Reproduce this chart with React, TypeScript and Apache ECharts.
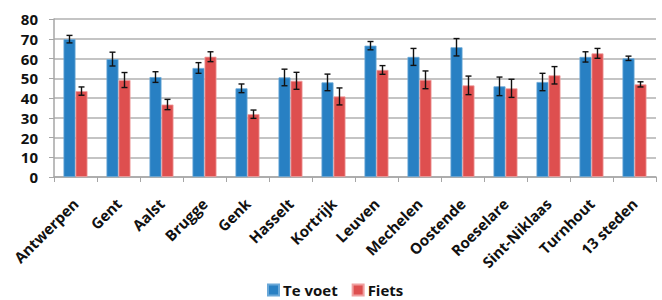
import React, { useEffect, useRef } from "react";
import * as echarts from "echarts";

const categories = ["Antwerpen", "Gent", "Aalst", "Brugge", "Genk", "Hasselt", "Kortrijk", "Leuven", "Mechelen", "Oostende", "Roeselare", "Sint-Niklaas", "Turnhout", "13 steden"];
const teVoet = [69.8, 59.7, 50.6, 55.2, 44.9, 50.4, 47.9, 66.5, 60.8, 65.7, 45.9, 48.1, 60.8, 60.1];
const teVoetErr = [1.9, 3.5, 2.7, 2.7, 2.2, 4.2, 4.2, 2.1, 4.3, 4.4, 4.7, 4.4, 2.6, 1.1];
const fiets = [43.5, 49.1, 36.7, 60.9, 31.8, 48.7, 40.8, 54.2, 49.2, 46.4, 44.9, 51.5, 62.6, 46.9];
const fietsErr = [2.1, 3.8, 2.6, 2.5, 2.1, 4.3, 4.3, 2.2, 4.5, 4.7, 4.6, 4.4, 2.5, 1.3];
const yTicks = [0, 10, 20, 30, 40, 50, 60, 70, 80];

const BAR_W = 12;
const FONT = "'Open Sans', 'Liberation Sans', sans-serif";

function errSeries(name: string, values: number[], errs: number[], offset: number) {
  return {
    type: "custom",
    name: name + "-err",
    silent: true,
    z: 10,
    data: values.map((v, i) => [i, v - errs[i], v + errs[i]]),
    renderItem: (params: any, api: any) => {
      const i = api.value(0);
      const lo = api.coord([i, api.value(1)]);
      const hi = api.coord([i, api.value(2)]);
      const x = lo[0] + offset;
      const cap = 3;
      const style = { stroke: "#111", lineWidth: 1.4 };
      return {
        type: "group",
        children: [
          { type: "line", shape: { x1: x, y1: lo[1], x2: x, y2: hi[1] }, style },
          { type: "line", shape: { x1: x - cap, y1: lo[1], x2: x + cap, y2: lo[1] }, style },
          { type: "line", shape: { x1: x - cap, y1: hi[1], x2: x + cap, y2: hi[1] }, style },
        ],
      };
    },
  };
}

export default function App() {
  const ref = useRef<HTMLDivElement>(null);
  useEffect(() => {
    document.body.style.margin = "0";
    if (!ref.current) return;
    const chart = echarts.init(ref.current, undefined, { renderer: "svg" });
    chart.setOption({
      animation: false,
      grid: { left: 54, right: 6, top: 19, bottom: 123 },
      legend: {
        bottom: 2,
        left: 267,
        padding: 0,
        data: ["Te voet", "Fiets"],
        icon: "rect",
        itemWidth: 11,
        itemHeight: 11,
        itemGap: 14,
        textStyle: { fontFamily: FONT, fontWeight: "bold", fontSize: 15, lineHeight: 16, color: "#111", padding: [0, 0, 0, -1] },
      },
      xAxis: {
        type: "category",
        data: categories,
        axisLine: { lineStyle: { color: "#a6a6a6", width: 1.5 } },
        axisTick: { show: true, length: 5, lineStyle: { color: "#a6a6a6", width: 1 } },
        axisLabel: {
          rotate: 45,
          interval: 0,
          margin: 24,
          fontFamily: FONT,
          fontWeight: "bold",
          fontSize: 15,
          color: "#111",
        },
      },
      yAxis: {
        type: "value",
        min: 0,
        max: 80,
        interval: 10,
        axisLine: { show: true, lineStyle: { color: "#a6a6a6", width: 1.5 } },
        axisTick: { show: true, length: 5, lineStyle: { color: "#a6a6a6" } },
        splitLine: { lineStyle: { color: "#b0b0b0", width: 1.5 } },
        axisLabel: {
          margin: 16,
          fontFamily: FONT,
          fontWeight: "bold",
          fontSize: 15,
          lineHeight: 15,
          color: "#111",
          formatter: (v: number) => (yTicks.includes(v) ? String(v) : ""),
        },
      },
      series: [
        {
          name: "Te voet",
          type: "bar",
          data: teVoet,
          barWidth: BAR_W,
          barGap: "0%",
          itemStyle: { color: "#2880c3", borderColor: "#6aa8d8", borderWidth: 0.8 },
        },
        {
          name: "Fiets",
          type: "bar",
          data: fiets,
          barWidth: BAR_W,
          barGap: "0%",
          itemStyle: { color: "#de4f4f", borderColor: "#f0a0a0", borderWidth: 0.8 },
        },
        errSeries("Te voet", teVoet, teVoetErr, -BAR_W / 2),
        errSeries("Fiets", fiets, fietsErr, BAR_W / 2),
      ],
    });
    return () => chart.dispose();
  }, []);
  return <div ref={ref} style={{ width: 662, height: 300 }} />;
}
